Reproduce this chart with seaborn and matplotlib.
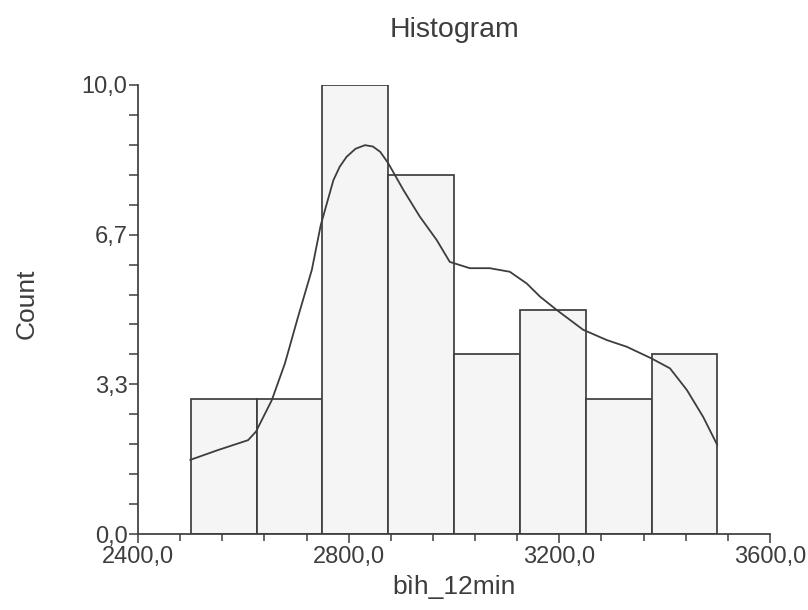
import matplotlib
matplotlib.use("Agg")
import matplotlib.pyplot as plt
from matplotlib.ticker import AutoMinorLocator, FixedLocator, FixedFormatter
import pandas as pd
import seaborn as sns

# Histogram bins and counts
bin_edges = [2500, 2625, 2750, 2875, 3000, 3125, 3250, 3375, 3500]
counts = [3, 3, 10, 8, 4, 5, 3, 4]

# Smoothed density curve (in count units)
curve_x = [2499, 2552, 2609, 2624, 2654, 2679, 2704, 2730, 2747, 2771, 2783,
           2796, 2813, 2831, 2846, 2860, 2875, 2904, 2935, 2967, 2992, 3030,
           3068, 3106, 3138, 3163, 3195, 3245, 3290, 3328, 3375, 3410, 3442,
           3473, 3500]
curve_y = [1.65, 1.87, 2.09, 2.28, 2.98, 3.80, 4.84, 5.88, 6.88, 7.88, 8.18,
           8.40, 8.58, 8.66, 8.63, 8.51, 8.26, 7.66, 7.07, 6.55, 6.06, 5.92,
           5.92, 5.84, 5.58, 5.29, 4.99, 4.55, 4.32, 4.17, 3.91, 3.69, 3.21,
           2.61, 1.98]

x_ticks = [2400, 2800, 3200, 3600]
x_tick_labels = ["2400,0", "2800,0", "3200,0", "3600,0"]
y_ticks = [0, 10 / 3, 20 / 3, 10]
y_tick_labels = ["0,0", "3,3", "6,7", "10,0"]

sns.set_theme(style="ticks")
ink = "#3d3d3d"
plt.rcParams["font.family"] = ["Liberation Sans", "DejaVu Sans"]

fig = plt.figure(figsize=(8.08, 6.10), dpi=100)
ax = fig.add_axes([138 / 808, 1 - 534 / 610, 632 / 808, 449 / 610])

centers = [(a + b) / 2 for a, b in zip(bin_edges[:-1], bin_edges[1:])]
df = pd.DataFrame({"value": centers, "count": counts})
sns.histplot(data=df, x="value", weights="count", bins=bin_edges, ax=ax,
             stat="count", color="#f5f5f5", alpha=1.0,
             edgecolor=ink, linewidth=1.25, zorder=2)

curve = pd.DataFrame({"x": curve_x, "y": curve_y})
sns.lineplot(data=curve, x="x", y="y", ax=ax, color=ink, linewidth=1.3,
             sort=False, estimator=None, zorder=3)

ax.set_xlim(2400, 3600)
ax.set_ylim(0, 10)
ax.xaxis.set_major_locator(FixedLocator(x_ticks))
ax.xaxis.set_major_formatter(FixedFormatter(x_tick_labels))
ax.yaxis.set_major_locator(FixedLocator(y_ticks))
ax.yaxis.set_major_formatter(FixedFormatter(y_tick_labels))
ax.xaxis.set_minor_locator(AutoMinorLocator(5))
ax.yaxis.set_minor_locator(AutoMinorLocator(5))

for side in ("top", "right"):
    ax.spines[side].set_visible(False)
for side in ("left", "bottom"):
    ax.spines[side].set_color(ink)
    ax.spines[side].set_linewidth(1.25)
    ax.spines[side].set_zorder(4)

ax.tick_params(axis="x", which="major", length=6.5, width=1.1, color=ink,
               pad=2.5, labelcolor=ink, labelsize=17)
ax.tick_params(axis="x", which="minor", length=5, width=1.1, color=ink)
ax.tick_params(axis="y", which="major", length=6.5, width=1.1, color=ink,
               pad=1, labelcolor=ink, labelsize=17)
ax.tick_params(axis="y", which="minor", length=6.5, width=1.1, color=ink)

ax.set_title("Histogram", fontsize=20.5, color=ink, pad=34.6)
ax.set_xlabel("bìh_12min", fontsize=19, color=ink)
ax.xaxis.set_label_coords(0.5, -0.092)
ax.set_ylabel("Count", fontsize=19, color=ink)
ax.yaxis.set_label_coords(-0.158, 0.512)
ax.grid(False)
ax.set_facecolor("white")
fig.patch.set_facecolor("white")

fig.savefig("out.png", dpi=100, facecolor="white")
